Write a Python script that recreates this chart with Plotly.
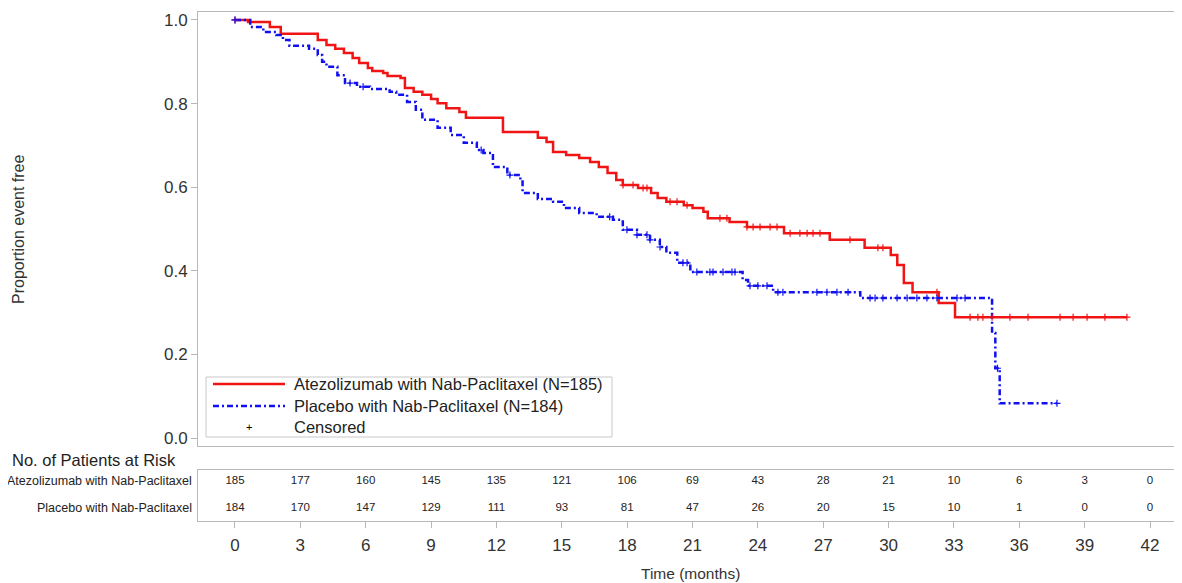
import plotly.graph_objects as go

# Kaplan-Meier steps: time of drop (months) and new proportion
atezo_t = [0, 0.6, 1.6, 2.1, 3.8, 4.2, 4.6, 5.0, 5.4, 5.7, 6.1, 6.3, 6.8, 7.0, 7.6, 7.8,
           8.2, 8.6, 9.0, 9.3, 9.7, 10.3, 10.6, 12.3, 13.9, 14.3, 14.6, 15.2, 15.8, 16.3,
           16.7, 17.1, 17.5, 17.8, 18.5, 19.1, 19.4, 19.8, 20.6, 21.0, 21.5, 21.7, 22.7,
           23.5, 25.2, 27.3, 28.9, 30.1, 30.4, 30.7, 31.1, 32.3, 33.05, 40.94]
atezo_s = [1.0, 0.995, 0.983, 0.967, 0.952, 0.940, 0.931, 0.921, 0.909, 0.897, 0.885, 0.878,
           0.873, 0.866, 0.861, 0.837, 0.828, 0.821, 0.811, 0.801, 0.789, 0.780, 0.766,
           0.732, 0.718, 0.708, 0.684, 0.677, 0.670, 0.660, 0.648, 0.634, 0.617, 0.605,
           0.598, 0.586, 0.574, 0.565, 0.557, 0.550, 0.541, 0.526, 0.517, 0.505, 0.490,
           0.474, 0.455, 0.438, 0.414, 0.371, 0.349, 0.323, 0.289, 0.289]

placebo_t = [0, 0.7, 1.3, 1.9, 2.2, 2.5, 3.4, 3.8, 4.0, 4.2, 4.7, 5.05, 5.6, 6.2, 7.1, 7.4,
             7.9, 8.3, 8.6, 9.3, 9.9, 10.5, 11.1, 11.4, 11.84, 12.5, 13.1, 13.2, 13.9, 14.6,
             15.1, 15.8, 16.6, 17.35, 17.8, 18.45, 19.05, 19.5, 19.8, 20.3, 20.9, 23.3,
             23.55, 24.7, 28.7, 34.75, 34.9, 35.1, 37.73]
placebo_s = [1.0, 0.983, 0.971, 0.964, 0.952, 0.938, 0.931, 0.916, 0.900, 0.888, 0.868,
             0.849, 0.840, 0.835, 0.828, 0.821, 0.804, 0.785, 0.761, 0.742, 0.725, 0.706,
             0.689, 0.682, 0.648, 0.629, 0.617, 0.586, 0.572, 0.565, 0.550, 0.538, 0.529,
             0.522, 0.498, 0.486, 0.474, 0.457, 0.443, 0.419, 0.397, 0.378, 0.364, 0.349,
             0.335, 0.251, 0.167, 0.083, 0.083]

# censored observations
atezo_cens_t = [0, 17.81, 18.27, 18.73, 18.91, 19.97, 20.29, 20.75, 22.26, 22.58, 23.5,
                23.78, 24.1, 24.56, 24.88, 25.48, 25.93, 26.26, 26.53, 26.85, 28.23, 29.51,
                29.74, 32.22, 33.74, 34.1, 34.33, 34.75, 35.57, 36.4, 37.87, 38.47, 39.11,
                39.93, 40.94]
atezo_cens_s = [1.0, 0.605, 0.605, 0.598, 0.598, 0.565, 0.565, 0.557, 0.526, 0.526, 0.505,
                0.505, 0.505, 0.505, 0.505, 0.490, 0.490, 0.490, 0.490, 0.490, 0.474, 0.455,
                0.455, 0.349, 0.289, 0.289, 0.289, 0.289, 0.289, 0.289, 0.289, 0.289, 0.289,
                0.289, 0.289]
placebo_cens_t = [0, 5.28, 5.88, 11.3, 12.62, 17.2, 17.99, 18.45, 18.91, 19.05, 19.51, 20.56,
                  20.75, 21.2, 21.8, 21.94, 22.4, 22.81, 22.95, 23.64, 24.0, 24.42, 24.92,
                  25.15, 26.71, 27.17, 27.63, 28.14, 29.15, 29.38, 29.74, 30.39, 30.85, 31.3,
                  31.76, 32.22, 33.14, 33.51, 35.0, 37.73]
placebo_cens_s = [1.0, 0.849, 0.840, 0.689, 0.629, 0.529, 0.498, 0.486, 0.486, 0.474, 0.457,
                  0.419, 0.419, 0.397, 0.397, 0.397, 0.397, 0.397, 0.397, 0.364, 0.364, 0.364,
                  0.349, 0.349, 0.349, 0.349, 0.349, 0.349, 0.335, 0.335, 0.335, 0.335, 0.335,
                  0.335, 0.335, 0.335, 0.335, 0.335, 0.167, 0.083]

risk_times = [0, 3, 6, 9, 12, 15, 18, 21, 24, 27, 30, 33, 36, 39, 42]
risk_atezo = [185, 177, 160, 145, 135, 121, 106, 69, 43, 28, 21, 10, 6, 3, 0]
risk_placebo = [184, 170, 147, 129, 111, 93, 81, 47, 26, 20, 15, 10, 1, 0, 0]

names = ["Atezolizumab with Nab-Paclitaxel (N=185)", "Placebo with Nab-Paclitaxel (N=184)", "Censored"]

RED = "#f01414"
BLUE = "#1010f0"
FRAME = "#b8b8b8"
FONT = "Liberation Sans"
BLUE_DASH = "6px,3px,2px,3px"

fig = go.Figure()

fig.add_trace(go.Scatter(x=atezo_t, y=atezo_s, mode="lines", line_shape="hv",
                         line=dict(color=RED, width=2.5), name=names[0]))
fig.add_trace(go.Scatter(x=placebo_t, y=placebo_s, mode="lines", line_shape="hv",
                         line=dict(color=BLUE, width=2.5, dash=BLUE_DASH), name=names[1]))
fig.add_trace(go.Scatter(x=atezo_cens_t, y=atezo_cens_s, mode="markers",
                         marker=dict(symbol="cross-thin", size=5, line=dict(color=RED, width=1.2))))
fig.add_trace(go.Scatter(x=placebo_cens_t, y=placebo_cens_s, mode="markers",
                         marker=dict(symbol="cross-thin", size=5, line=dict(color=BLUE, width=1.2))))

# number at risk table
fig.add_trace(go.Scatter(x=risk_times, y=[1] * len(risk_times), text=[str(v) for v in risk_atezo],
                         mode="text", textfont=dict(size=11.5, color="#222", family=FONT),
                         xaxis="x2", yaxis="y2", hoverinfo="skip"))
fig.add_trace(go.Scatter(x=risk_times, y=[0] * len(risk_times), text=[str(v) for v in risk_placebo],
                         mode="text", textfont=dict(size=11.5, color="#222", family=FONT),
                         xaxis="x2", yaxis="y2", hoverinfo="skip"))

# the page puts the figure 8px in from the top-left corner
OFF = 8
W, H = 1182, 583
ml = 198 - OFF
mt = 12 - OFF
mr = W - (1175 - OFF)
mb = H - (521 - OFF)
pw = W - ml - mr
ph = H - mt - mb


def px_x(px):
    return (px - OFF - ml) / pw


def px_y(py):
    return (H - mb - (py - OFF)) / ph


fig.update_layout(
    width=W, height=H,
    margin=dict(l=ml, r=mr, t=mt, b=mb),
    paper_bgcolor="white", plot_bgcolor="white",
    font=dict(family=FONT, color="#222"),
    showlegend=False,
    xaxis=dict(range=[-1.698, 43.147], showticklabels=False, ticks="", showgrid=False,
               zeroline=False, showline=True, mirror=True, linecolor=FRAME, linewidth=1,
               anchor="y"),
    yaxis=dict(domain=[px_y(446), 1], range=[-0.019, 1.019], tickvals=[0, 0.2, 0.4, 0.6, 0.8, 1.0],
               tickformat=".1f", ticks="outside", ticklen=6, tickcolor=FRAME,
               tickfont=dict(size=17, family=FONT, color="#333"), showgrid=False, zeroline=False,
               showline=True, mirror=True, linecolor=FRAME, linewidth=1),
    xaxis2=dict(matches="x", anchor="y2", tickvals=risk_times, ticks="outside", ticklen=6,
                tickcolor=FRAME, tickfont=dict(size=17, family=FONT, color="#333"),
                ticklabelstandoff=3,
                showgrid=False, zeroline=False, showline=True, mirror=True,
                linecolor=FRAME, linewidth=1),
    yaxis2=dict(domain=[0, px_y(470)], range=[-0.48, 1.41], showticklabels=False,
                ticks="", showgrid=False, zeroline=False, showline=True, mirror=True,
                linecolor=FRAME, linewidth=1),
)

# legend box drawn by hand so it sits as tight as the original
fig.add_shape(type="rect", xref="paper", yref="paper", x0=px_x(206), x1=px_x(612),
              y0=px_y(437), y1=px_y(377), line=dict(color="#c8c8c8", width=1),
              fillcolor="white", layer="above")
legend_rows = [384, 406, 427]
fig.add_shape(type="line", xref="paper", yref="paper", x0=px_x(213), x1=px_x(285),
              y0=px_y(legend_rows[0]), y1=px_y(legend_rows[0]),
              line=dict(color=RED, width=2.5), layer="above")
fig.add_shape(type="line", xref="paper", yref="paper", x0=px_x(213), x1=px_x(285),
              y0=px_y(legend_rows[1]), y1=px_y(legend_rows[1]),
              line=dict(color=BLUE, width=2.5, dash=BLUE_DASH), layer="above")
fig.add_annotation(text="+", x=px_x(249), y=px_y(legend_rows[2]), xref="paper", yref="paper",
                   xanchor="center", yanchor="middle", showarrow=False,
                   font=dict(size=11, family=FONT, color="black"))
for name, row in zip(names, legend_rows):
    fig.add_annotation(text=name, x=px_x(292), y=px_y(row), xref="paper", yref="paper",
                       xanchor="left", yanchor="middle", showarrow=False,
                       font=dict(size=16.5, family=FONT, color="#222"))

fig.add_annotation(text="Proportion event free", textangle=-90, x=px_x(18), y=px_y(229),
                   xref="paper", yref="paper", xanchor="center", yanchor="middle",
                   showarrow=False, font=dict(size=16, family=FONT, color="#333"))
fig.add_annotation(text="No. of Patients at Risk", x=px_x(10), y=px_y(460),
                   xanchor="left", yanchor="middle",
                   xref="paper", yref="paper", showarrow=False,
                   font=dict(size=16.5, family=FONT, color="#222"))
fig.add_annotation(text="Atezolizumab with Nab-Paclitaxel", x=px_x(194), y=1,
                   xanchor="right", yanchor="middle",
                   xref="paper", yref="y2", showarrow=False,
                   font=dict(size=12.5, family=FONT, color="#222"))
fig.add_annotation(text="Placebo with Nab-Paclitaxel", x=px_x(194), y=0,
                   xanchor="right", yanchor="middle",
                   xref="paper", yref="y2", showarrow=False,
                   font=dict(size=12.5, family=FONT, color="#222"))
fig.add_annotation(text="Time (months)", x=px_x(690), y=px_y(573),
                   xanchor="center", yanchor="middle",
                   xref="paper", yref="paper", showarrow=False,
                   font=dict(size=15.5, family=FONT, color="#333"))

fig.write_html("out.html")
